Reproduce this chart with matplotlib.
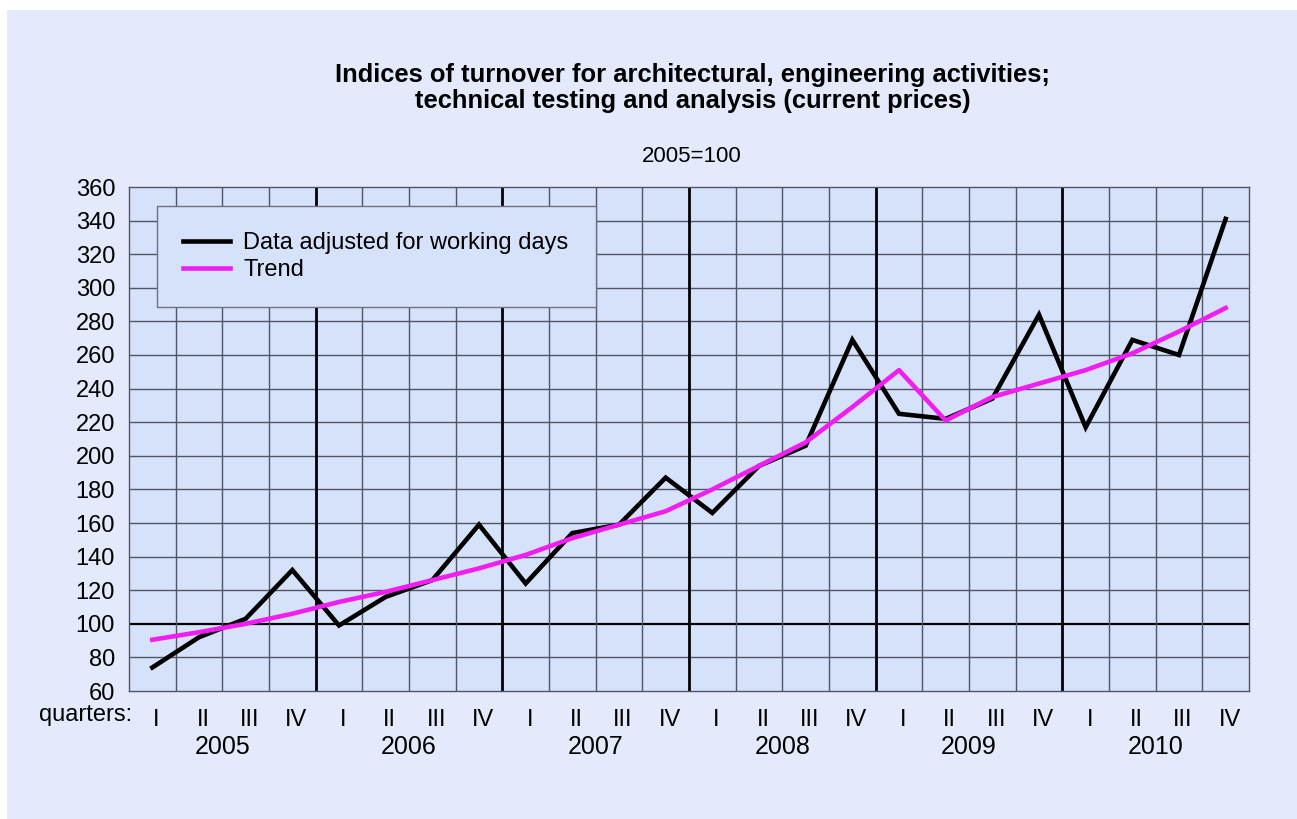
import matplotlib.pyplot as plt
from matplotlib.patches import Rectangle
from matplotlib.transforms import ScaledTranslation
import numpy as np

plt.rcParams['font.family'] = ['Liberation Sans', 'DejaVu Sans']

years = ['2005', '2006', '2007', '2008', '2009', '2010']
quarters = ['I', 'II', 'III', 'IV']

adjusted = [74, 92, 103, 132,
            99, 116, 126, 159,
            124, 154, 159, 187,
            166, 194, 206, 269,
            225, 222, 234, 284,
            217, 269, 260, 341]
trend = [90.5, 95, 100, 106,
         113, 119, 126, 133,
         141, 151, 159, 167,
         180, 194, 208, 229,
         251, 221, 235, 243,
         251, 261, 274, 288]

outer_bg = '#e4eafc'
plot_bg = '#d6e2fa'
grid_c = '#4f5566'

fig = plt.figure(figsize=(12.97, 8.19), dpi=100)
fig.patch.set_facecolor('white')
fig.patches.append(Rectangle((7 / 1297, 0), 1 - 7 / 1297, 1 - 10 / 819,
                             transform=fig.transFigure, facecolor=outer_bg,
                             edgecolor='none', zorder=-10))

ax = fig.add_axes([129 / 1297, 1 - 691 / 819, 1120 / 1297, 504 / 819])
ax.set_facecolor(plot_bg)

n = len(adjusted)
x = np.arange(n)
ax.set_xlim(-0.5, n - 0.5)
ax.set_ylim(60, 360)

# grid
for y in range(80, 360, 20):
    if y == 100:
        ax.axhline(y, color='black', lw=1.6, zorder=1)
    else:
        ax.axhline(y, color=grid_c, lw=1.0, zorder=1)
for i in range(n - 1):
    xv = i + 0.5
    if (i + 1) % 4 == 0:
        ax.axvline(xv, color='black', lw=2.0, zorder=1)
    else:
        ax.axvline(xv, color=grid_c, lw=1.0, zorder=1)

ax.plot(x, adjusted, color='black', lw=3.3, label='Data adjusted for working days',
        solid_joinstyle='miter', zorder=3)
ax.plot(x, trend, color='#f01ef0', lw=3.3, label='Trend', zorder=3)

for s in ax.spines.values():
    s.set_color(grid_c)
    s.set_linewidth(1.0)

ax.set_yticks(range(60, 361, 20))
ax.tick_params(axis='y', length=0, labelsize=17, pad=10)
ax.set_xticks(x)
ax.set_xticklabels(quarters * len(years), fontsize=17)
ax.tick_params(axis='x', length=0, pad=13)
shift = ScaledTranslation(4 / 100, 0, fig.dpi_scale_trans)
for lab in ax.get_xticklabels():
    lab.set_transform(lab.get_transform() + shift)

for k, yr in enumerate(years):
    ax.text(4 * k + 1.5, -0.088, yr, transform=ax.get_xaxis_transform(),
            ha='center', va='top', fontsize=18)
ax.text(0.003, -0.026, 'quarters:', transform=ax.transAxes,
        ha='right', va='top', fontsize=17)

leg = ax.legend(loc='upper left', bbox_to_anchor=(0.025, 0.962, 0.392, 0.0),
                mode='expand', fontsize=17, frameon=True, fancybox=False,
                handlelength=2.0, handletextpad=0.55, borderpad=1.1,
                labelspacing=0.22, borderaxespad=0)
leg.get_frame().set_facecolor(plot_bg)
leg.get_frame().set_edgecolor('#707080')
leg.get_frame().set_alpha(1)
leg.set_zorder(5)

fig.text(0.534, 1 - 88 / 819, 'Indices of turnover for architectural, engineering activities;\n'
         'technical testing and analysis (current prices)',
         ha='center', va='center', fontsize=18.4, fontweight='bold', linespacing=1.1)
fig.text(0.533, 1 - 157 / 819, '2005=100', ha='center', va='center', fontsize=16)

fig.savefig('out.png', dpi=100, facecolor=fig.get_facecolor())
